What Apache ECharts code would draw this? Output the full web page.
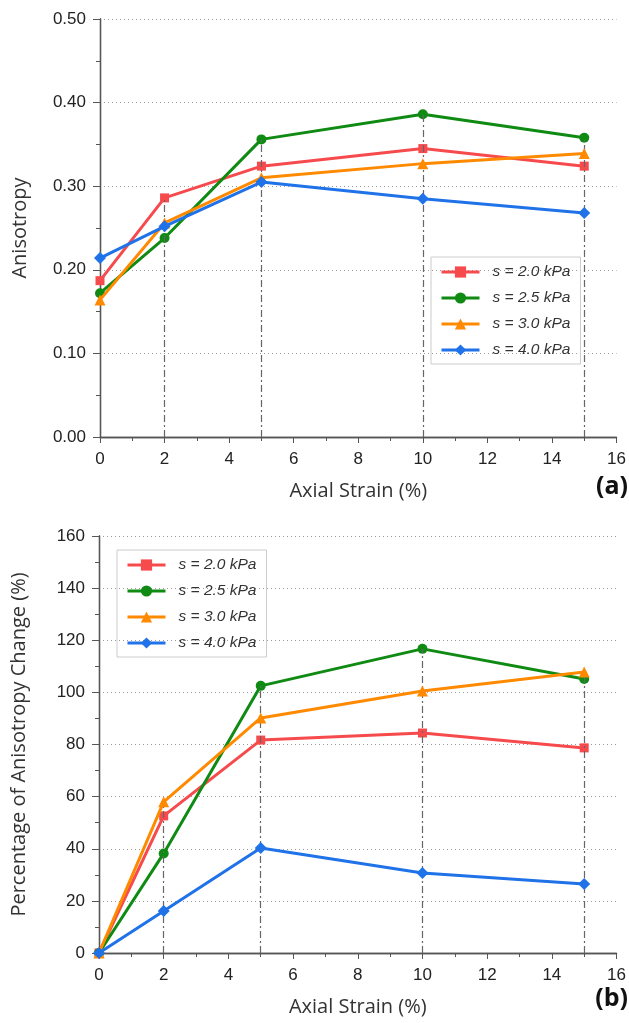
<!DOCTYPE html>
<html>
<head>
<meta charset="utf-8">
<script src="https://cdn.jsdelivr.net/npm/echarts@6/dist/echarts.min.js"></script>
<style>
  html, body { margin: 0; padding: 0; background: #fff; }
  #chart { width: 629px; height: 1023px; }
</style>
</head>
<body>
<div id="chart"></div>
<script>
// axial strain (%)
const strain = [0, 2, 5, 10, 15]
const seriesNames = ['s = 2.0 kPa', 's = 2.5 kPa', 's = 3.0 kPa', 's = 4.0 kPa']

// (a) anisotropy
const aniso20 = [0.187, 0.286, 0.324, 0.345, 0.324]
const aniso25 = [0.172, 0.238, 0.356, 0.386, 0.358]
const aniso30 = [0.164, 0.256, 0.310, 0.327, 0.339]
const aniso40 = [0.214, 0.252, 0.305, 0.285, 0.268]

// (b) percentage of anisotropy change
const change20 = [0, 52.6, 81.7, 84.4, 78.7]
const change25 = [0, 38.2, 102.5, 116.7, 105.1]
const change30 = [0, 58.0, 90.2, 100.5, 107.8]
const change40 = [0, 16.1, 40.3, 30.7, 26.5]

const colors = ['#f74a4d', '#0f8a12', '#ff8a00', '#1f72e8']
const symbols = ['rect', 'circle', 'triangle', 'diamond']
const symbolSizes = [9, 10, 11, 12]

const chart = echarts.init(document.getElementById('chart'))

const labelFont = { color: '#222', fontSize: 17, fontFamily: 'Liberation Sans, Arial, sans-serif' }
const nameFont = { color: '#333', fontSize: 20, fontFamily: 'Open Sans, sans-serif' }
const frameLine = { show: true, lineStyle: { color: '#555', width: 1.3 } }

function xAxes(gridIndex) {
  return [
    {
      gridIndex, type: 'value', min: 0, max: 16, interval: 2, position: 'bottom',
      name: 'Axial Strain (%)', nameLocation: 'middle', nameGap: 44, nameTextStyle: nameFont,
      axisLine: frameLine,
      axisTick: { show: true, inside: false, length: 6, lineStyle: { color: '#555' } },
      minorTick: { show: true, splitNumber: 2, length: 4, lineStyle: { color: '#555' } },
      axisLabel: { ...labelFont, margin: 14 },
      splitLine: { show: false }
    },
    {
      gridIndex, type: 'value', min: 0, max: 16, interval: 2, position: 'top',
      axisLine: frameLine,
      axisTick: { show: true, inside: true, length: 6, lineStyle: { color: '#555' } },
      axisLabel: { show: false },
      splitLine: { show: false }
    }
  ]
}

function yAxes(gridIndex, max, interval, name, fmt) {
  return [
    {
      gridIndex, type: 'value', min: 0, max, interval, position: 'left',
      name, nameLocation: 'middle', nameGap: 70, nameTextStyle: nameFont,
      axisLine: frameLine,
      axisTick: { show: true, inside: false, length: 7, lineStyle: { color: '#555' } },
      minorTick: { show: true, splitNumber: 2, length: 4, lineStyle: { color: '#555' } },
      axisLabel: { ...labelFont, margin: 14, formatter: fmt },
      splitLine: { show: true, lineStyle: { color: '#9a9a9a', type: [1, 3], width: 1 } }
    },
    {
      gridIndex, type: 'value', min: 0, max, interval, position: 'right',
      axisLine: frameLine,
      axisTick: { show: true, inside: true, length: 6, lineStyle: { color: '#555' } },
      axisLabel: { show: false },
      splitLine: { show: false }
    }
  ]
}

function dropLines(groups, xIndex, yIndex) {
  const data = strain.slice(1).map((x, k) => {
    const top = Math.max(...groups.map(g => g[k + 1]))
    return [{ coord: [x, 0] }, { coord: [x, top] }]
  })
  return {
    type: 'line', xAxisIndex: xIndex, yAxisIndex: yIndex, data: [], z: 1,
    silent: true,
    markLine: {
      symbol: 'none', silent: true, label: { show: false },
      lineStyle: { color: '#666', type: [7, 3, 2, 3], width: 1.2 },
      data
    }
  }
}

function dataSeries(groups, xIndex, yIndex) {
  return groups.map((vals, i) => ({
    name: seriesNames[i],
    type: 'line',
    xAxisIndex: xIndex, yAxisIndex: yIndex,
    data: strain.map((x, k) => [x, vals[k]]),
    symbol: symbols[i], symbolSize: symbolSizes[i],
    lineStyle: { color: colors[i], width: 3 },
    itemStyle: { color: colors[i] },
    z: 3 + i
  }))
}

const groupsA = [aniso20, aniso25, aniso30, aniso40]
const groupsB = [change20, change25, change30, change40]

const legendCommon = {
  data: seriesNames,
  orient: 'vertical',
  itemWidth: 38, itemHeight: 14, itemGap: 10,
  padding: [7, 10, 6, 9],
  borderColor: '#ccc', borderWidth: 1,
  lineStyle: { width: 3 },
  textStyle: {
    color: '#333', fontSize: 15.5, fontStyle: 'italic',
    fontFamily: 'Liberation Sans, Arial, sans-serif', padding: [0, 0, 0, 8]
  }
}

chart.setOption({
  animation: false,
  backgroundColor: '#fff',
  grid: [
    { left: 100, right: 10, top: 19, height: 418 },
    { left: 99, right: 11, top: 536, height: 417 }
  ],
  xAxis: [...xAxes(0), ...xAxes(1)],
  yAxis: [
    ...yAxes(0, 0.5, 0.1, 'Anisotropy', v => v.toFixed(2)),
    ...yAxes(1, 160, 20, 'Percentage of Anisotropy Change (%)', v => String(v))
  ],
  legend: [
    { ...legendCommon, left: 431, top: 257 },
    { ...legendCommon, left: 117, top: 550 }
  ],
  graphic: [
    { type: 'text', right: 1, top: 474, style: { text: '(a)', fontSize: 25, fontWeight: 'bold', fill: '#111', fontFamily: 'Open Sans, sans-serif' } },
    { type: 'text', right: 1, top: 986, style: { text: '(b)', fontSize: 25, fontWeight: 'bold', fill: '#111', fontFamily: 'Open Sans, sans-serif' } }
  ],
  series: [
    dropLines(groupsA, 0, 0),
    ...dataSeries(groupsA, 0, 0),
    dropLines(groupsB, 2, 2),
    ...dataSeries(groupsB, 2, 2)
  ]
})
</script>
</body>
</html>
